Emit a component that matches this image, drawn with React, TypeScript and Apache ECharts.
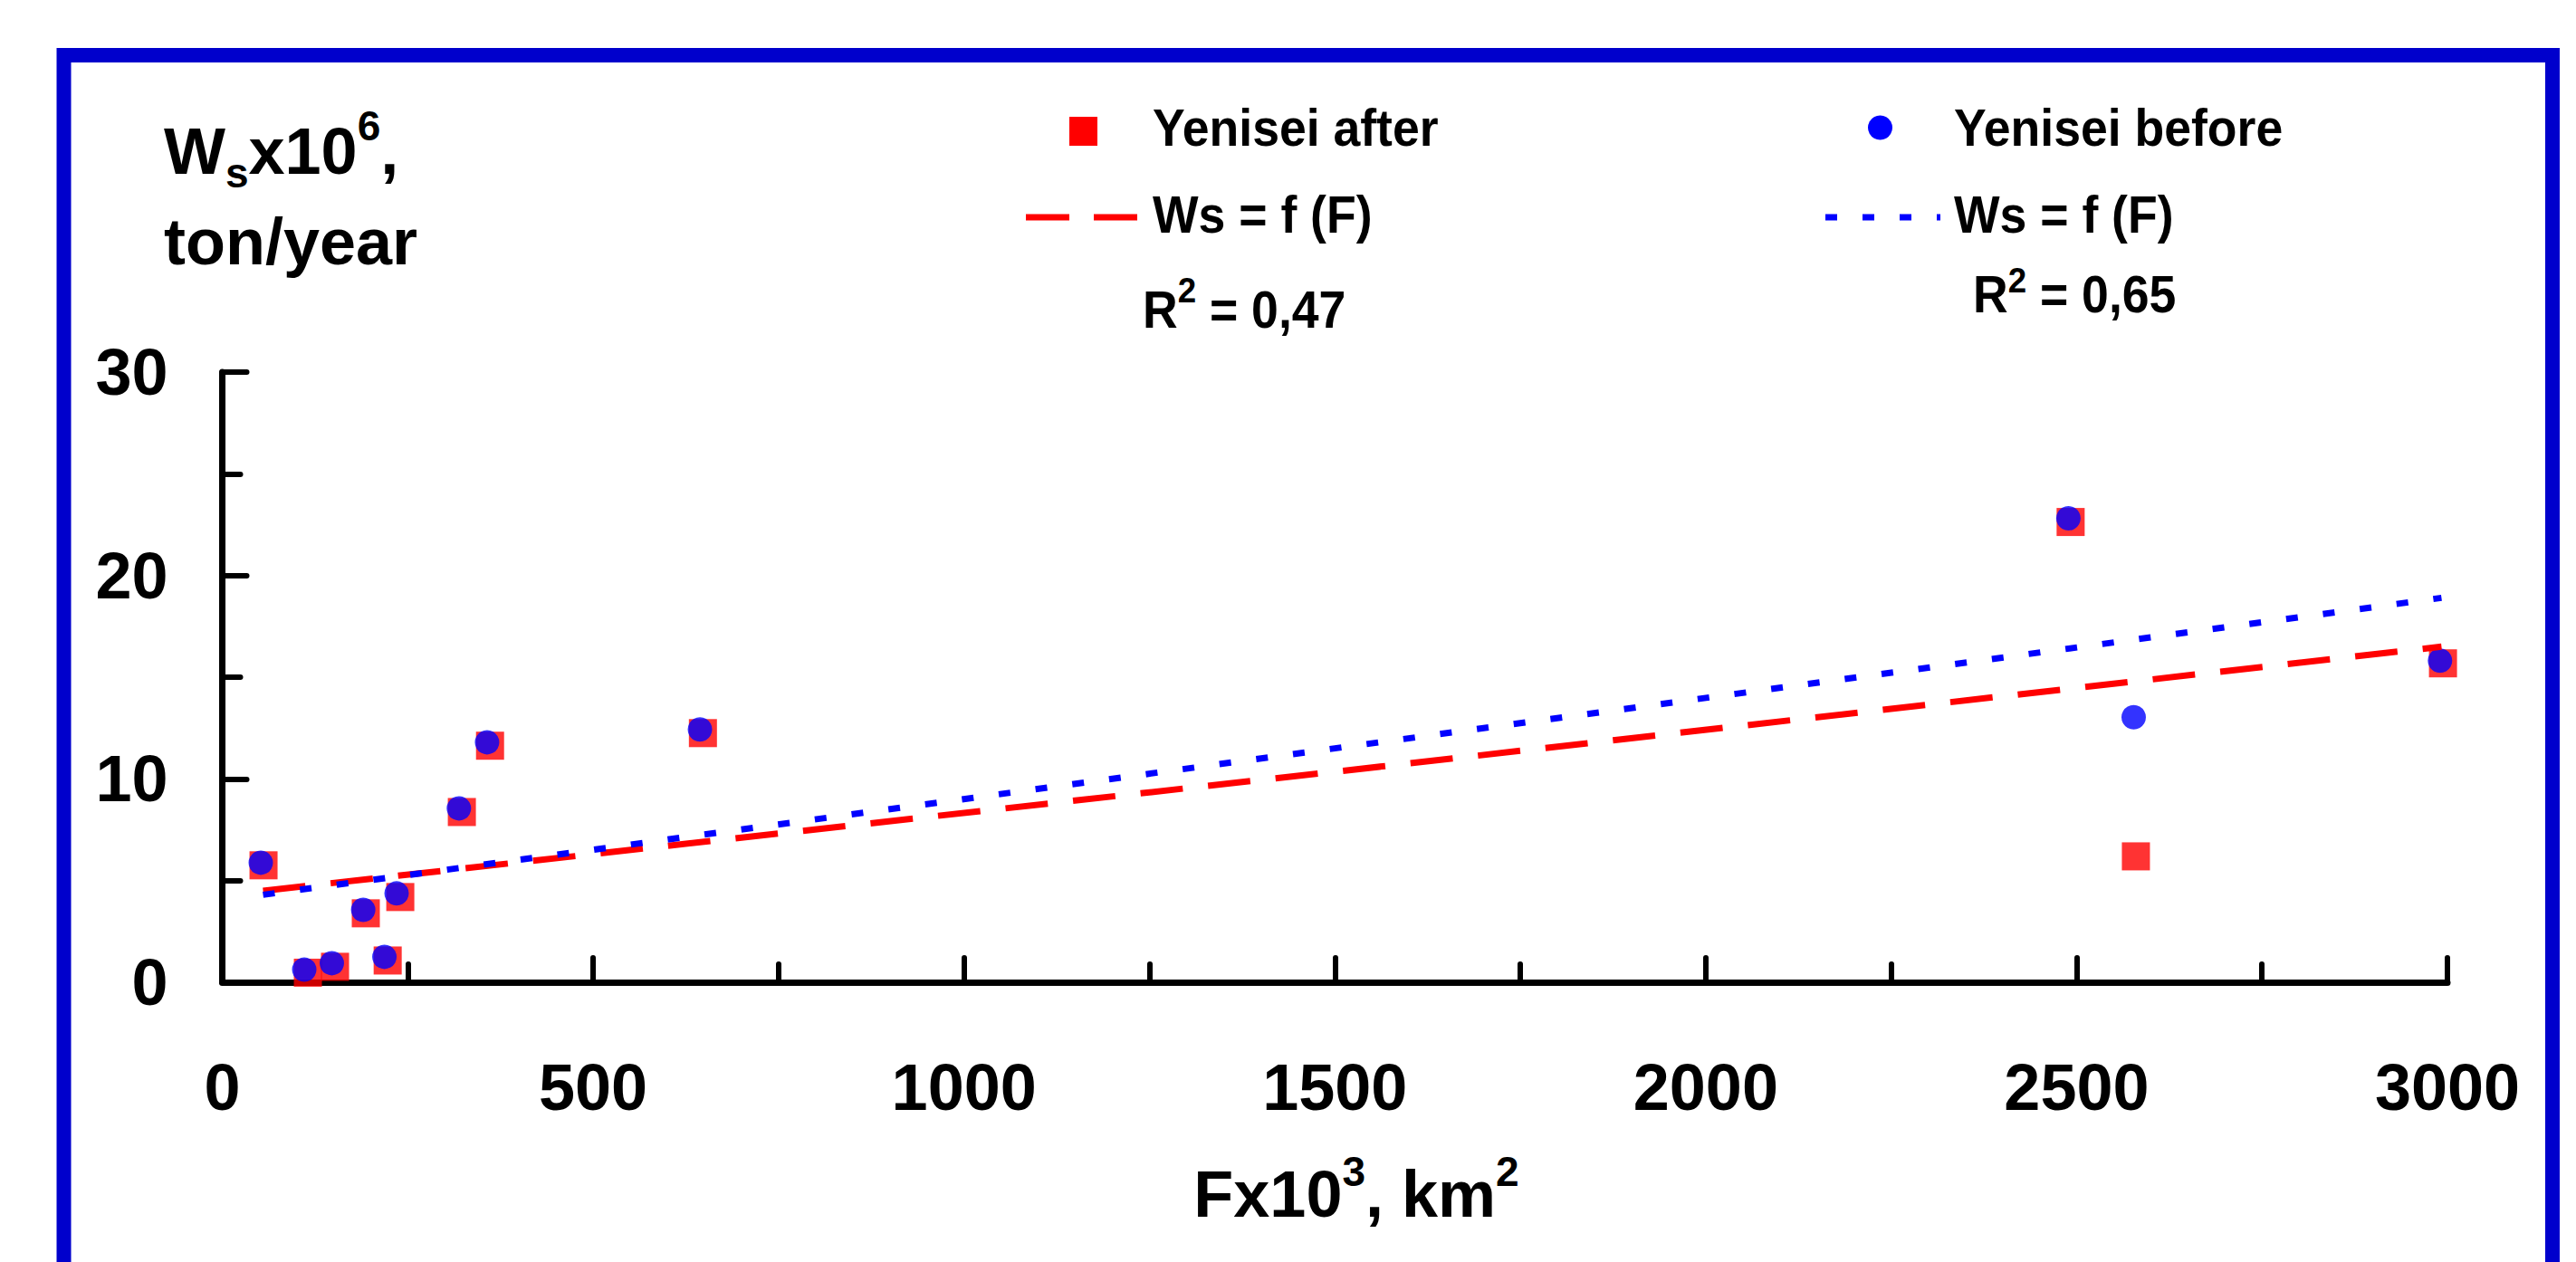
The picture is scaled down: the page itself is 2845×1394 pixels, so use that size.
import React, { useEffect, useRef } from "react";
import * as echarts from "echarts";

// ---- Data ----
// Yenisei after (red squares)
const afterF = [55.6, 115.4, 152, 193.5, 240, 223, 323, 361, 648, 2492, 2580, 2994];
const afterW = [5.75, 0.47, 0.76, 3.39, 4.19, 1.07, 8.37, 11.63, 12.25, 22.63, 6.19, 15.68];
// Yenisei before (blue circles)
const beforeF = [51.9, 110.5, 147.7, 190, 235, 218.6, 319, 357, 644, 2489, 2577, 2990];
const beforeW = [5.88, 0.62, 0.94, 3.56, 4.37, 1.25, 8.55, 11.8, 12.43, 22.81, 13.03, 15.81];
// Trend lines Ws = f(F)
const fitAfterF = [55, 1500, 2992];
const fitAfterW = [4.5, 10.35, 16.5];
const fitBeforeF = [55, 1500, 2992];
const fitBeforeW = [4.3, 11.5, 18.9];
// Axis ticks
const xTicks = [0, 500, 1000, 1500, 2000, 2500, 3000];
const yTicks = [0, 10, 20, 30];
// Texts
const seriesNames = ["Yenisei after", "Yenisei before", "Ws = f (F)", "Ws = f (F)"];
const r2Labels = ["0,47", "0,65"];

const FONT = "'Liberation Sans', Arial, Helvetica, sans-serif";
const RED = "#ff0000";
const BLUE = "#0000ff";
const FRAME = "#0000cc";

const pairs = (xs: number[], ys: number[]) => xs.map((x, i) => [x, ys[i]]);

const axisCommon = {
  type: "value" as const,
  axisLine: { show: true, onZero: false, lineStyle: { color: "#000", width: 7, cap: "round" } },
  axisTick: { show: true, inside: true, length: 27, lineStyle: { color: "#000", width: 6, cap: "round" } },
  minorTick: { show: true, splitNumber: 2, length: 20, lineStyle: { color: "#000", width: 6, cap: "round" } },
  splitLine: { show: false },
  minorSplitLine: { show: false },
};

const tokenB = (size: number, lh: number) => ({
  fontSize: size,
  fontWeight: "bold",
  fontFamily: FONT,
  fill: "#000",
  lineHeight: lh,
});

// small token (super/subscript) with an explicit box height used for its vertical placement
const tokenS = (size: number, h: number, va: string) => ({
  ...tokenB(size, h),
  height: h,
  verticalAlign: va,
});

export default function App() {
  const ref = useRef<HTMLDivElement>(null);

  useEffect(() => {
    if (!ref.current) return;
    const chart = echarts.init(ref.current, undefined, { renderer: "svg" });

    const legendText = (x: number, y: number, text: string) => ({
      type: "text",
      x,
      y,
      scaleX: 0.94,
      silent: true,
      style: {
        text,
        fontSize: 57,
        fontWeight: "bold",
        fontFamily: FONT,
        fill: "#000",
        align: "left",
        verticalAlign: "middle",
      },
    });

    const r2Text = (x: number, top: number, val: string, supH: number) => ({
      type: "text",
      x,
      y: top,
      scaleX: 0.94,
      silent: true,
      style: {
        text: `{b|R}{s|2}{b| = ${val}}`,
        align: "left",
        verticalAlign: "top",
        rich: {
          b: tokenB(57, 57),
          s: tokenS(39, supH, "top"),
        },
      },
    });

    const labelStyle = {
      fontSize: 72,
      fontWeight: "bold",
      color: "#000",
      fontFamily: FONT,
      formatter: (v: number) => String(v),
    };

    const option: any = {
      animation: false,
      backgroundColor: "#ffffff",
      grid: { left: 245.5, right: 142, top: 411, bottom: 309, containLabel: false },
      xAxis: {
        ...axisCommon,
        min: xTicks[0],
        max: xTicks[xTicks.length - 1],
        interval: xTicks[1] - xTicks[0],
        axisLabel: { ...labelStyle, margin: 80 },
      },
      yAxis: {
        ...axisCommon,
        min: yTicks[0],
        max: yTicks[yTicks.length - 1],
        interval: yTicks[1] - yTicks[0],
        axisLabel: { ...labelStyle, margin: 60 },
      },
      series: [
        {
          name: seriesNames[0],
          type: "scatter",
          symbol: "rect",
          symbolSize: 31,
          itemStyle: { color: RED },
          data: pairs(afterF, afterW),
        },
        {
          name: seriesNames[1],
          type: "scatter",
          symbol: "circle",
          symbolSize: 27,
          itemStyle: { color: BLUE },
          data: pairs(beforeF, beforeW),
        },
        {
          name: seriesNames[2],
          type: "line",
          showSymbol: false,
          symbol: "none",
          lineStyle: { color: RED, width: 7, type: [47, 28], cap: "butt" },
          data: pairs(fitAfterF, fitAfterW),
        },
        {
          name: seriesNames[3],
          type: "line",
          showSymbol: false,
          symbol: "none",
          lineStyle: { color: BLUE, width: 7, type: [13, 28], cap: "butt" },
          data: pairs(fitBeforeF, fitBeforeW),
        },
      ],
      graphic: [
        // blue frame
        {
          type: "rect",
          silent: true,
          shape: { x: 70.5, y: 61, width: 2748.5, height: 1500 },
          style: { fill: "none", stroke: FRAME, lineWidth: 16 },
        },
        // y axis title
        {
          type: "text",
          x: 181,
          y: 117,
          silent: true,
          style: {
            text: "{b|W}{sub|s}{b|x10}{sup|6}{b|,}\n{b|ton/year}",
            align: "left",
            verticalAlign: "top",
            rich: {
              b: tokenB(72, 100),
              sub: tokenS(46, 52, "bottom"),
              sup: tokenS(46, 43, "top"),
            },
          },
        },
        // x axis title
        {
          type: "text",
          x: 1498,
          y: 1282.5,
          silent: true,
          style: {
            text: "{b|Fx10}{sup|3}{b|, km}{sup|2}",
            align: "center",
            verticalAlign: "top",
            rich: {
              b: tokenB(72, 72),
              sup: tokenS(46, 22, "top"),
            },
          },
        },
        // legend: after
        { type: "rect", silent: true, shape: { x: 1181, y: 129, width: 31, height: 32 }, style: { fill: RED } },
        legendText(1273, 141, seriesNames[0]),
        {
          type: "line",
          silent: true,
          shape: { x1: 1133, y1: 240, x2: 1256, y2: 240 },
          style: { stroke: RED, lineWidth: 7, lineDash: [48, 27] },
        },
        legendText(1273, 237, seriesNames[2]),
        r2Text(1262, 314, r2Labels[0], 14),
        // legend: before
        { type: "circle", silent: true, shape: { cx: 2076.5, cy: 141, r: 13.5 }, style: { fill: BLUE } },
        legendText(2158, 141.5, seriesNames[1]),
        {
          type: "line",
          silent: true,
          shape: { x1: 2016, y1: 240, x2: 2143, y2: 240 },
          style: { stroke: BLUE, lineWidth: 7, lineDash: [13, 28] },
        },
        legendText(2158, 237.5, seriesNames[3]),
        r2Text(2179, 296.5, r2Labels[1], 27),
      ],
    };

    chart.setOption(option);
    return () => chart.dispose();
  }, []);

  return (
    <div
      ref={ref}
      style={{ position: "absolute", left: 0, top: 0, width: "2845px", height: "1394px", background: "#fff" }}
    />
  );
}
